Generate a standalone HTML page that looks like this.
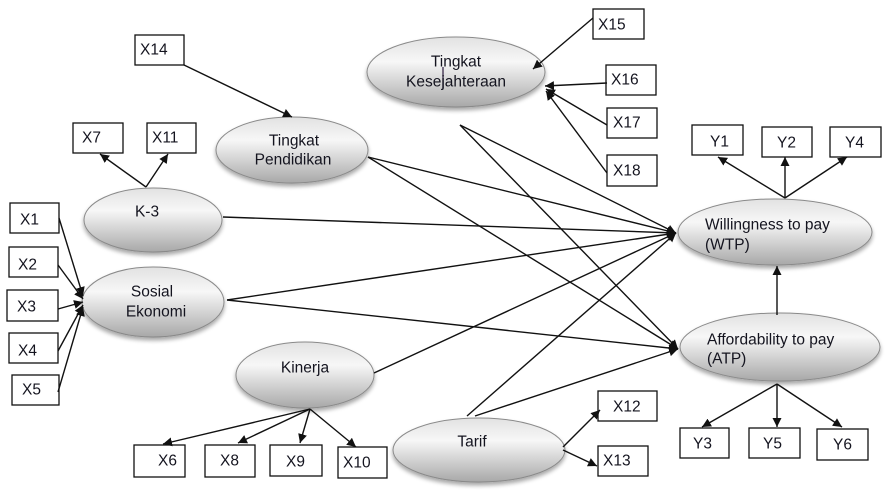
<!DOCTYPE html>
<html>
<head>
<meta charset="utf-8">
<style>
html,body{margin:0;padding:0;background:#fff;font-family:"Liberation Sans",Arimo,Arial,Helvetica,sans-serif;}
svg{display:block;}
svg text{font-family:"Liberation Sans",Arimo,Arial,Helvetica,sans-serif;font-size:15.5px;fill:#14141f;}
</style>
</head>
<body>
<svg width="891" height="495" viewBox="0 0 891 495" xmlns="http://www.w3.org/2000/svg" font-family="Liberation Sans, Arimo, Arial, Helvetica, sans-serif" font-size="15.5">
<defs>
<linearGradient id="g" x1="0" y1="0" x2="0" y2="1">
<stop offset="0" stop-color="#e2e2e2"/>
<stop offset="0.35" stop-color="#f7f7f7"/>
<stop offset="1" stop-color="#a8a8a8"/>
</linearGradient>
<filter id="sh" x="-20%" y="-20%" width="140%" height="160%">
<feGaussianBlur in="SourceAlpha" stdDeviation="2"/>
<feOffset dx="0" dy="3" result="b"/>
<feComponentTransfer><feFuncA type="linear" slope="0.35"/></feComponentTransfer>
<feMerge><feMergeNode/><feMergeNode in="SourceGraphic"/></feMerge>
</filter>
<marker id="a" viewBox="0 0 10 10" refX="10" refY="5" markerWidth="9" markerHeight="9" orient="auto" markerUnits="userSpaceOnUse">
<path d="M0,0 L10,5 L0,10 z" fill="#111"/>
</marker>
</defs>

<!-- Ellipses -->
<g filter="url(#sh)" stroke="#8a8a8a" stroke-width="1" fill="url(#g)">
<ellipse cx="456" cy="72" rx="89" ry="35"/>
<ellipse cx="292" cy="150" rx="76" ry="33"/>
<ellipse cx="153" cy="220" rx="69" ry="32"/>
<ellipse cx="153" cy="302" rx="71" ry="35"/>
<ellipse cx="305" cy="375" rx="69" ry="33"/>
<ellipse cx="479" cy="450" rx="86" ry="32"/>
<ellipse cx="775" cy="232" rx="97" ry="33"/>
<ellipse cx="780" cy="347" rx="100" ry="34"/>
</g>

<!-- Boxes -->
<g fill="#fff" stroke="#111" stroke-width="1.3">
<rect x="135" y="35" width="49" height="30"/>
<rect x="73" y="123" width="50" height="30"/>
<rect x="147" y="123" width="49" height="30"/>
<rect x="10" y="203" width="49" height="30"/>
<rect x="9" y="247" width="49" height="30"/>
<rect x="7" y="290" width="51" height="31"/>
<rect x="9" y="333" width="49" height="30"/>
<rect x="12" y="375" width="47" height="30"/>
<rect x="134" y="445" width="51" height="32"/>
<rect x="205" y="445" width="50" height="32"/>
<rect x="270" y="445" width="52" height="31"/>
<rect x="338" y="447" width="49" height="31"/>
<rect x="598" y="391" width="59" height="30"/>
<rect x="598" y="446" width="50" height="30"/>
<rect x="593" y="9" width="51" height="30"/>
<rect x="606" y="65" width="50" height="30"/>
<rect x="607" y="108" width="50" height="30"/>
<rect x="607" y="155" width="50" height="31"/>
<rect x="692" y="125" width="51" height="30"/>
<rect x="762" y="127" width="50" height="30"/>
<rect x="830" y="127" width="51" height="30"/>
<rect x="680" y="428" width="49" height="30"/>
<rect x="749" y="428" width="51" height="30"/>
<rect x="817" y="429" width="51" height="31"/>
</g>

<!-- Connectors -->
<g stroke="#111" stroke-width="1.4" fill="none" marker-end="url(#a)">
<line x1="184" y1="65" x2="292" y2="117"/>
<line x1="146" y1="187" x2="100" y2="154"/>
<line x1="146" y1="187" x2="168" y2="154"/>
<line x1="59" y1="218" x2="83" y2="296"/>
<line x1="58" y1="265" x2="83" y2="299"/>
<line x1="58" y1="309" x2="83" y2="302"/>
<line x1="58" y1="351" x2="83" y2="305"/>
<line x1="58" y1="392" x2="83" y2="307"/>
<line x1="310" y1="409" x2="163" y2="444"/>
<line x1="310" y1="409" x2="238" y2="443"/>
<line x1="310" y1="409" x2="300" y2="443"/>
<line x1="310" y1="409" x2="356" y2="447"/>
<line x1="563" y1="447" x2="600" y2="410"/>
<line x1="563" y1="450" x2="597" y2="466"/>
<line x1="593" y1="18" x2="533" y2="69"/>
<line x1="607" y1="83" x2="545" y2="86"/>
<line x1="607" y1="125" x2="546" y2="89"/>
<line x1="607" y1="173" x2="546" y2="91"/>
<line x1="785" y1="198" x2="718" y2="157"/>
<line x1="785" y1="198" x2="785" y2="157"/>
<line x1="785" y1="198" x2="847" y2="157"/>
<line x1="777" y1="315" x2="777" y2="266"/>
<line x1="777" y1="384" x2="702" y2="427"/>
<line x1="777" y1="384" x2="777" y2="427"/>
<line x1="777" y1="384" x2="842" y2="427"/>
<!-- to WTP -->
<line x1="460" y1="125" x2="676" y2="233"/>
<line x1="368" y1="157" x2="676" y2="233"/>
<line x1="223" y1="217" x2="676" y2="233"/>
<line x1="227" y1="300" x2="676" y2="233"/>
<line x1="374" y1="373" x2="676" y2="233"/>
<line x1="467" y1="416" x2="676" y2="233"/>
<!-- to ATP -->
<line x1="460" y1="125" x2="678" y2="349"/>
<line x1="368" y1="157" x2="678" y2="349"/>
<line x1="227" y1="300" x2="678" y2="349"/>
<line x1="475" y1="416" x2="678" y2="349"/>
</g>

<!-- cursor artifact -->
<line x1="443" y1="67" x2="443" y2="88" stroke="#3a2a4a" stroke-width="1.3"/>

<!-- Ellipse labels -->
<g text-anchor="middle" dominant-baseline="central">
<text x="456" y="62">Tingkat</text>
<text x="456" y="82">Kesejahteraan</text>
<text x="294" y="141">Tingkat</text>
<text x="293" y="160">Pendidikan</text>
<text x="147" y="212">K-3</text>
<text x="152" y="292">Sosial</text>
<text x="156" y="312">Ekonomi</text>
<text x="305" y="368">Kinerja</text>
<text x="472" y="442">Tarif</text>
</g>
<g dominant-baseline="central">
<text x="705" y="225">Willingness to pay</text>
<text x="705" y="245">(WTP)</text>
<text x="707" y="340">Affordability to pay</text>
<text x="707" y="359">(ATP)</text>

<text x="140" y="50">X14</text>
<text x="82" y="138">X7</text>
<text x="152" y="138">X11</text>
<text x="20" y="220">X1</text>
<text x="18" y="265">X2</text>
<text x="17" y="307">X3</text>
<text x="18" y="351">X4</text>
<text x="22" y="390">X5</text>
<text x="158" y="461">X6</text>
<text x="220" y="461">X8</text>
<text x="286" y="462">X9</text>
<text x="343" y="463">X10</text>
<text x="613" y="407">X12</text>
<text x="603" y="461">X13</text>
<text x="598" y="25">X15</text>
<text x="611" y="80">X16</text>
<text x="613" y="123">X17</text>
<text x="613" y="171">X18</text>
<text x="710" y="142">Y1</text>
<text x="777" y="143">Y2</text>
<text x="845" y="143">Y4</text>
<text x="693" y="444">Y3</text>
<text x="763" y="444">Y5</text>
<text x="833" y="445">Y6</text>
</g>
</svg>
</body>
</html>
